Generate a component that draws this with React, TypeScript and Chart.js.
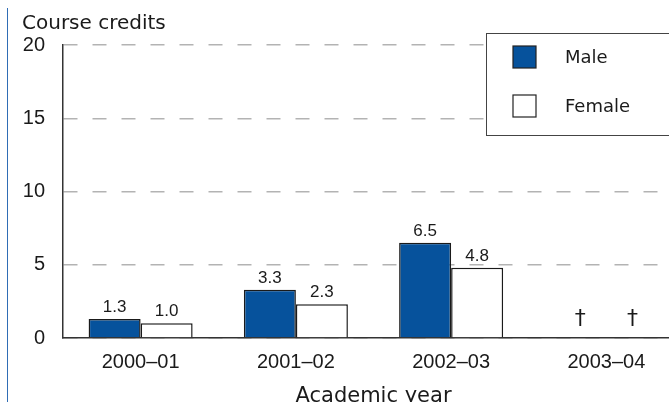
import React, { useEffect, useRef } from 'react';
import { Chart, registerables } from 'chart.js';

Chart.register(...registerables);

const categories = ['2000–01', '2001–02', '2002–03', '2003–04'];
const maleValues: (number | null)[] = [1.3, 3.3, 6.5, null];
const femaleValues: (number | null)[] = [1.0, 2.3, 4.8, null];
const maleLabels = ['1.3', '3.3', '6.5', '†'];
const femaleLabels = ['1.0', '2.3', '4.8', '†'];
const seriesNames = ['Male', 'Female'];
const yMin = 0;
const yMax = 20;
const yStep = 5;
const yAxisTitle = 'Course credits';
const xAxisTitle = 'Academic year';

const FONT = "'Liberation Sans', Arial, sans-serif";
const WFONT = "'DejaVu Sans', 'Liberation Sans', sans-serif";
const MALE_COLOR = '#06529c';
const TEXT = '#1a1a1a';

const valueLabelPlugin = {
  id: 'valueLabels',
  afterDatasetsDraw(chart: any) {
    const ctx = chart.ctx;
    const allLabels = [maleLabels, femaleLabels];
    ctx.save();
    ctx.fillStyle = TEXT;
    ctx.textAlign = 'center';
    ctx.textBaseline = 'alphabetic';
    chart.data.datasets.forEach((_ds: any, i: number) => {
      const meta = chart.getDatasetMeta(i);
      meta.data.forEach((el: any, j: number) => {
        const txt = allLabels[i][j];
        const isDagger = txt === '†';
        ctx.font = isDagger ? '22px ' + WFONT : '17px ' + FONT;
        ctx.fillText(txt, el.x, el.y - (isDagger ? 13 : 7));
      });
    });
    ctx.restore();
  },
};

const overlayPlugin = {
  id: 'overlay',
  afterDraw(chart: any) {
    const ctx = chart.ctx;
    ctx.save();
    // axis title at top-left
    ctx.fillStyle = TEXT;
    ctx.font = '20px ' + WFONT;
    ctx.textAlign = 'left';
    ctx.textBaseline = 'alphabetic';
    ctx.fillText(yAxisTitle, 14, 21);

    // legend box
    const bx = 478, by = 25, bw = 240, bh = 102;
    ctx.fillStyle = '#ffffff';
    ctx.fillRect(bx, by, bw, bh);
    ctx.strokeStyle = '#444';
    ctx.lineWidth = 1;
    ctx.strokeRect(bx + 0.5, by + 0.5, bw, bh);
    const items = chart.data.datasets.map((ds: any) => ({ label: ds.label, color: ds.backgroundColor }));
    items.forEach((it: any, k: number) => {
      const sy = 38 + k * 49;
      ctx.fillStyle = it.color;
      ctx.fillRect(505, sy, 23, 22);
      ctx.strokeStyle = '#222';
      ctx.lineWidth = 1.2;
      ctx.strokeRect(505, sy, 23, 22);
      ctx.fillStyle = TEXT;
      ctx.font = '18px ' + WFONT;
      ctx.textBaseline = 'middle';
      ctx.fillText(it.label, 557, sy + 12);
    });
    ctx.restore();
  },
};

export default function App() {
  const ref = useRef<HTMLCanvasElement>(null);
  useEffect(() => {
    const chart = new Chart(ref.current!, {
      type: 'bar',
      data: {
        labels: categories,
        datasets: [
          {
            label: seriesNames[0],
            data: maleValues,
            backgroundColor: MALE_COLOR,
            borderColor: '#1a1a1a',
            borderWidth: 1.5,
            categoryPercentage: 0.67,
            barPercentage: 1,
          },
          {
            label: seriesNames[1],
            data: femaleValues,
            backgroundColor: '#ffffff',
            borderColor: '#1a1a1a',
            borderWidth: 1.5,
            categoryPercentage: 0.67,
            barPercentage: 1,
          },
        ],
      },
      options: {
        responsive: false,
        animation: false,
        layout: { padding: { left: 14, right: 14, top: 37, bottom: 0 } },
        plugins: {
          legend: { display: false },
          tooltip: { enabled: false },
          title: { display: false },
        },
        scales: {
          x: {
            grid: { display: false, drawTicks: false },
            border: { display: true, color: '#333', width: 1.5 },
            ticks: {
              color: TEXT,
              font: { family: FONT, size: 20 },
              padding: 12,
              maxRotation: 0,
            },
            title: {
              display: true,
              text: xAxisTitle,
              color: TEXT,
              font: { family: WFONT, size: 21, lineHeight: 1.0 },
              padding: { top: 0, bottom: 0 },
            },
          },
          y: {
            min: yMin,
            max: yMax,
            afterFit(scale: any) {
              scale.width = 41;
            },
            grid: {
              drawTicks: false,
              color: '#b3b3b3',
              lineWidth: 1.5,
            },
            border: { display: true, color: '#333', width: 1.5, dash: [14, 15] },
            ticks: {
              stepSize: yStep,
              color: TEXT,
              font: { family: FONT, size: 20 },
              padding: 18,
            },
          },
        },
      },
      plugins: [valueLabelPlugin, overlayPlugin],
    } as any);
    return () => chart.destroy();
  }, []);

  return (
    <div
      style={{
        position: 'fixed',
        left: 7,
        top: 8,
        width: 662,
        height: 394,
        overflow: 'hidden',
        borderLeft: '1px solid #2f6db5',
        boxSizing: 'border-box',
        background: '#fff',
      }}
    >
      <canvas ref={ref} width={690} height={399} style={{ display: 'block' }} />
    </div>
  );
}
